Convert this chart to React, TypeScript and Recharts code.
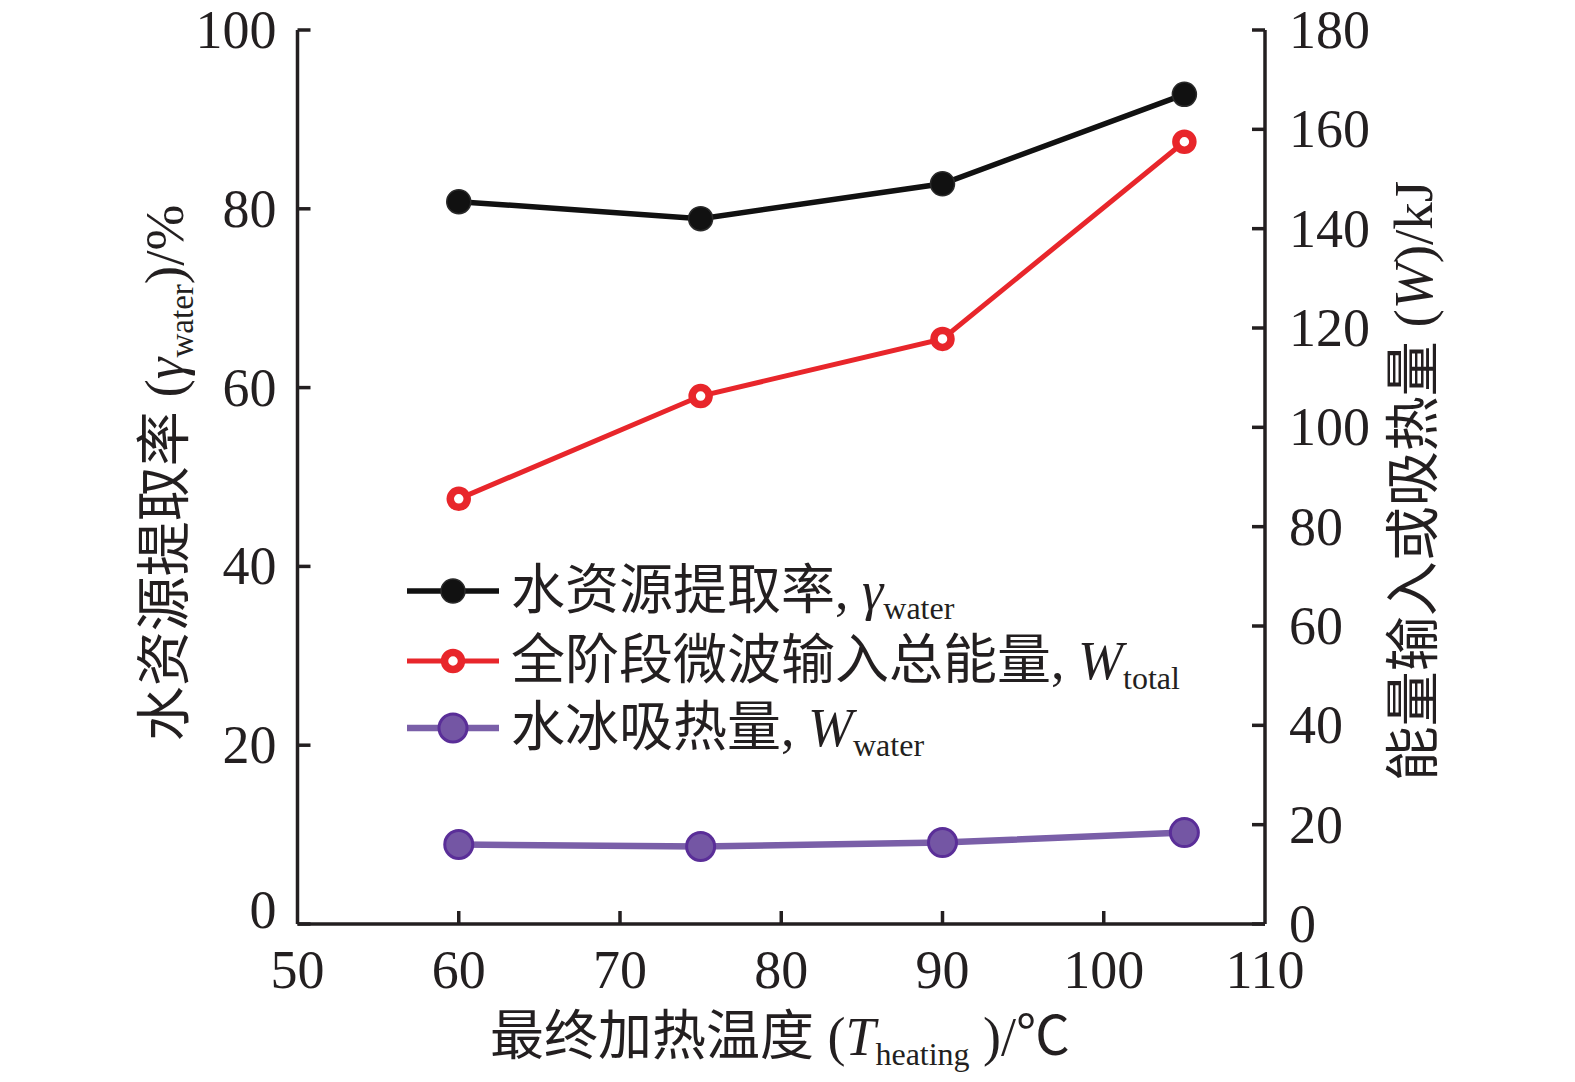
import React from 'react';
import { LineChart, Line, XAxis, YAxis, Legend, Label } from 'recharts';

const FONT = '"Liberation Serif", "Times New Roman", "Noto Sans CJK SC", serif';
const INK = '#231f20';
const TICK_LEN = 13;
const AXIS_W = 3.5;

// heating temperature (°C)
const temps = [60, 75, 90, 105];
// water extraction rate, %  (left axis)
const waterRate = [80.8, 78.9, 82.8, 92.8];
// total microwave input energy, kJ (right axis)
const totalEnergy = [85.6, 106.3, 117.8, 157.5];
// heat absorbed by water ice, kJ (right axis)
const iceHeat = [16.0, 15.6, 16.4, 18.4];

const xTicks = [50, 60, 70, 80, 90, 100, 110];
const leftTicks = [0, 20, 40, 60, 80, 100];
const rightTicks = [0, 20, 40, 60, 80, 100, 120, 140, 160, 180];

const SERIES = [
  { key: 'rate', axis: 'left', color: '#111111', width: 5.5, cjk: '水资源提取率, ', sym: 'γ', sub: 'water' },
  { key: 'total', axis: 'right', color: '#e8262b', width: 5, cjk: '全阶段微波输入总能量, ', sym: 'W', sub: 'total' },
  { key: 'ice', axis: 'right', color: '#7a5fa8', width: 6.5, cjk: '水冰吸热量, ', sym: 'W', sub: 'water' },
];

const data = temps.map((t, i) => ({ t, rate: waterRate[i], total: totalEnergy[i], ice: iceHeat[i] }));

function Marker({ kind, cx, cy }) {
  if (cx == null || cy == null) return null;
  if (kind === 'rate') {
    return <circle cx={cx} cy={cy} r={12} fill="#111111" stroke="#2a2a2a" strokeWidth={1.5} />;
  }
  if (kind === 'total') {
    return <circle cx={cx} cy={cy} r={8.5} fill="#ffffff" stroke="#e8262b" strokeWidth={7.5} />;
  }
  return <circle cx={cx} cy={cy} r={14} fill="#7456a4" stroke="#5a2e98" strokeWidth={3} />;
}

function BottomTick({ x, y, payload }) {
  const v = payload.value;
  const inner = v !== 50 && v !== 110;
  return (
    <g>
      {inner && <line x1={x} y1={y} x2={x} y2={y - TICK_LEN} stroke={INK} strokeWidth={AXIS_W} />}
      <text x={x} y={y + 64} textAnchor="middle" fontFamily={FONT} fontSize={54} fill={INK}>{v}</text>
    </g>
  );
}

function LeftTick({ x, y, payload }) {
  const v = payload.value;
  const dy = v === 0 ? 4 : 18;
  return (
    <g>
      <line x1={x} y1={y} x2={x + TICK_LEN} y2={y} stroke={INK} strokeWidth={AXIS_W} />
      <text x={x - 21} y={y + dy} textAnchor="end" fontFamily={FONT} fontSize={54} fill={INK}>{v}</text>
    </g>
  );
}

function RightTick({ x, y, payload }) {
  const v = payload.value;
  return (
    <g>
      <line x1={x} y1={y} x2={x - TICK_LEN} y2={y} stroke={INK} strokeWidth={AXIS_W} />
      <text x={x + 24} y={y + 18} textAnchor="start" fontFamily={FONT} fontSize={54} fill={INK}>{v}</text>
    </g>
  );
}

function LegendBox() {
  const rows = [38, 108, 175];
  return (
    <svg width={830} height={215} style={{ overflow: 'visible', display: 'block' }}>
      {SERIES.map((s, i) => {
        const cy = rows[i];
        return (
          <g key={s.key}>
            <line x1={10} y1={cy} x2={102} y2={cy} stroke={s.color} strokeWidth={s.width} />
            <Marker kind={s.key} cx={56} cy={cy} />
            <text x={114} y={cy + 18} fontFamily={FONT} fontSize={54} fill={INK}>
              <tspan>{s.cjk}</tspan>
              <tspan fontStyle="italic">{s.sym}</tspan>
              <tspan fontSize={32} dy={10}>{s.sub}</tspan>
            </text>
          </g>
        );
      })}
    </svg>
  );
}

export default function App() {
  return (
    <div
      style={{
        position: 'fixed',
        left: 0,
        top: 0,
        width: 1575,
        height: 1082,
        overflow: 'hidden',
        background: '#fff',
      }}
    >
      <LineChart
        width={1575}
        height={1082}
        data={data}
        margin={{ top: 30, right: 230, bottom: 78, left: 217.5 }}
      >
        <XAxis
          dataKey="t"
          type="number"
          domain={[50, 110]}
          ticks={xTicks}
          interval={0}
          height={80}
          tickSize={0}
          tickMargin={0}
          tickLine={false}
          axisLine={{ stroke: INK, strokeWidth: AXIS_W }}
          tick={BottomTick}
        >
          <Label
            content={() => (
              <text x={780} y={1055} textAnchor="middle" fontFamily={FONT} fontSize={54} fill={INK}>
                <tspan>最终加热温度 (</tspan>
                <tspan fontStyle="italic">T</tspan>
                <tspan fontSize={32} dy={10}>heating</tspan>
                <tspan dy={-10}> )/℃</tspan>
              </text>
            )}
          />
        </XAxis>
        <YAxis
          yAxisId="left"
          orientation="left"
          domain={[0, 100]}
          ticks={leftTicks}
          interval={0}
          width={80}
          tickSize={0}
          tickMargin={0}
          tickLine={false}
          axisLine={{ stroke: INK, strokeWidth: AXIS_W }}
          tick={LeftTick}
        >
          <Label
            content={() => (
              <text
                x={-473}
                y={183}
                transform="rotate(-90)"
                textAnchor="middle"
                fontFamily={FONT}
                fontSize={55}
                fill={INK}
              >
                <tspan>水资源提取率 (</tspan>
                <tspan fontStyle="italic">γ</tspan>
                <tspan fontSize={33} dy={10}>water</tspan>
                <tspan dy={-10}>)/%</tspan>
              </text>
            )}
          />
        </YAxis>
        <YAxis
          yAxisId="right"
          orientation="right"
          domain={[0, 180]}
          ticks={rightTicks}
          interval={0}
          width={80}
          tickSize={0}
          tickMargin={0}
          tickLine={false}
          axisLine={{ stroke: INK, strokeWidth: AXIS_W }}
          tick={RightTick}
        >
          <Label
            content={() => (
              <text
                x={-481}
                y={1432}
                transform="rotate(-90)"
                textAnchor="middle"
                fontFamily={FONT}
                fontSize={55}
                fill={INK}
              >
                <tspan>能量输入或吸热量 (</tspan>
                <tspan fontStyle="italic">W</tspan>
                <tspan>)/kJ</tspan>
              </text>
            )}
          />
        </YAxis>
        <Legend
          layout="vertical"
          align="center"
          verticalAlign="middle"
          wrapperStyle={{ left: 397, top: 553, width: 830, height: 215 }}
          content={() => <LegendBox />}
        />
        {SERIES.map((s) => (
          <Line
            key={s.key}
            yAxisId={s.axis}
            dataKey={s.key}
            type="linear"
            stroke={s.color}
            strokeWidth={s.width}
            isAnimationActive={false}
            dot={(p) => <Marker key={`${s.key}-${p.index}`} kind={s.key} cx={p.cx} cy={p.cy} />}
            activeDot={false}
          />
        ))}
      </LineChart>
    </div>
  );
}
